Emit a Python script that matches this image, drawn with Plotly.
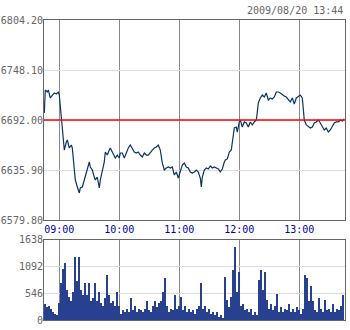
import plotly.graph_objects as go

# ---- data ----
price_times = ["08:45","08:46","08:48","08:49","08:51","08:53","08:55","08:57","08:59","09:00",
"09:02","09:03","09:04","09:05","09:07","09:08","09:10","09:12","09:13","09:15",
"09:16","09:18","09:20","09:21","09:23","09:25","09:27","09:29","09:30","09:31",
"09:33","09:35","09:36","09:38","09:40","09:41","09:43","09:45","09:46","09:48",
"09:50","09:51","09:53","09:55","09:56","09:58","10:00","10:01","10:03","10:05",
"10:07","10:09","10:11","10:13","10:15","10:17","10:19","10:21","10:23","10:25",
"10:27","10:29","10:31","10:33","10:35","10:37","10:39","10:41","10:43","10:45",
"10:47","10:49","10:51","10:53","10:55","10:57","10:59","11:01","11:03","11:05",
"11:07","11:09","11:11","11:13","11:15","11:17","11:19","11:21","11:22","11:23",
"11:25","11:27","11:29","11:31","11:33","11:35","11:37","11:39","11:41","11:43",
"11:45","11:46","11:48","11:50","11:52","11:54","11:55","11:57","11:58","12:00",
"12:01","12:03","12:05","12:07","12:09","12:11","12:13","12:15","12:17","12:18",
"12:19","12:21","12:23","12:25","12:27","12:29","12:31","12:33","12:35","12:37",
"12:39","12:41","12:43","12:45","12:47","12:49","12:51","12:53","12:55","12:57",
"12:59","13:01","13:03","13:04","13:05","13:07","13:09","13:11","13:13","13:15",
"13:17","13:19","13:21","13:23","13:25","13:27","13:29","13:31","13:33","13:35",
"13:37","13:39","13:41","13:43","13:45"]
price_values = [6699.8,6725.7,6723.4,6725.7,6716.7,6720.0,6722.3,6721.2,6723.4,6720.0,
6692.0,6680.8,6667.3,6658.3,6667.3,6669.6,6660.6,6664.0,6660.6,6639.3,
6624.7,6616.8,6610.1,6615.7,6616.8,6624.7,6633.7,6641.5,6644.9,6639.3,
6635.9,6628.0,6624.7,6628.0,6615.7,6624.7,6635.9,6644.9,6656.1,6652.7,
6658.3,6660.6,6656.1,6650.5,6649.4,6652.7,6649.4,6655.0,6655.0,6649.4,
6656.1,6660.6,6664.0,6660.6,6656.1,6655.0,6656.1,6652.7,6650.5,6655.0,
6652.7,6652.7,6656.1,6658.3,6660.6,6661.7,6664.0,6658.3,6643.8,6635.9,
6638.1,6639.3,6638.1,6639.3,6630.3,6633.7,6626.9,6633.7,6641.5,6643.8,
6639.3,6638.1,6633.7,6632.5,6633.7,6635.9,6633.7,6626.9,6616.8,6628.0,
6635.9,6638.1,6637.0,6640.4,6638.1,6639.3,6638.1,6637.0,6633.7,6637.0,
6644.9,6647.1,6648.3,6656.1,6658.3,6671.8,6683.0,6684.1,6678.5,6689.8,
6692.0,6684.1,6689.8,6688.6,6684.1,6689.8,6686.4,6689.8,6692.0,6700.9,
6711.1,6716.7,6720.0,6717.8,6722.3,6714.4,6716.7,6715.6,6717.8,6723.4,
6723.4,6722.3,6720.0,6718.9,6717.8,6714.4,6712.2,6716.7,6709.9,6716.7,
6718.9,6720.0,6716.7,6703.2,6692.0,6686.4,6684.1,6683.0,6684.1,6688.6,
6689.8,6692.0,6688.6,6684.1,6680.8,6683.0,6678.5,6680.8,6684.1,6688.6,
6689.8,6689.8,6692.0,6690.9,6693.1]

volume_start = "08:46"   # first 2-minute bar
volume_values = [326,265,305,244,183,142,122,366,773,1058,
1180,611,488,407,570,1302,814,1302,611,509,
773,529,773,407,448,773,407,570,366,305,
448,936,509,366,407,285,570,305,142,204,
163,224,183,448,204,285,163,244,204,163,
244,387,204,163,285,407,265,366,407,570,
855,285,183,244,204,529,244,285,488,204,
285,183,244,163,204,142,224,285,773,244,
305,183,224,142,183,102,163,81,122,61,
895,427,265,488,1018,1486,590,997,285,326,
204,244,163,224,122,183,102,834,1018,611,
997,427,244,346,204,285,549,183,265,163,
244,204,346,183,244,163,265,204,142,244,
936,855,387,692,387,204,163,448,224,163,
427,204,244,163,326,183,244,204,285,529]

prev_close = 6692.0
price_ticks = [6579.80, 6635.90, 6692.00, 6748.10, 6804.20]
volume_ticks = [0, 546, 1092, 1638]
time_ticks = ["09:00", "10:00", "11:00", "12:00", "13:00"]
stamp = "2009/08/20 13:44"
day = "2009-08-20 "

# ---- build ----
from datetime import datetime, timedelta
px = [day + t for t in price_times]
v0 = datetime.strptime(day + volume_start, "%Y-%m-%d %H:%M")
vx = [(v0 + timedelta(minutes=2 * i)).strftime("%Y-%m-%d %H:%M") for i in range(len(volume_values))]

FONT = "DejaVu Sans Mono"
fig = go.Figure()
fig.add_trace(go.Scatter(x=px, y=price_values, mode="lines",
                         line=dict(color="#0a3466", width=1.2),
                         xaxis="x", yaxis="y", hoverinfo="skip"))
fig.add_trace(go.Bar(x=vx, y=volume_values, width=120000,
                     marker=dict(color="#27408f", line=dict(width=0)),
                     xaxis="x2", yaxis="y2", hoverinfo="skip"))
fig.add_shape(type="line", xref="x domain", yref="y", x0=0, x1=1,
              y0=prev_close, y1=prev_close, line=dict(color="#ff0000", width=1.5))

xr = [day + "08:44:42", day + "13:45:42"]
axis_common = dict(showline=True, mirror=True, linecolor="#666666", linewidth=1,
                   ticks="", zeroline=False, automargin=False)
fig.update_layout(
    width=350, height=330,
    margin=dict(l=44, r=5, t=20, b=10),
    paper_bgcolor="white", plot_bgcolor="white",
    showlegend=False, bargap=0,
    font=dict(family=FONT, size=10, color="#666666"),
    xaxis=dict(domain=[0, 1], anchor="y", range=xr, type="date",
               tickvals=[day + t for t in time_ticks], ticktext=time_ticks,
               tickfont=dict(color="#0000a0", size=10, family=FONT),
               showgrid=True, gridcolor="#8a8a8a", gridwidth=1, **axis_common),
    yaxis=dict(domain=[1 - 200 / 300, 1], anchor="x", range=[price_ticks[0], price_ticks[-1]],
               tickvals=price_ticks, ticktext=["%.2f" % v for v in price_ticks],
               ticklabelstandoff=-2,
               showgrid=True, gridcolor="#dddddd", **axis_common),
    xaxis2=dict(domain=[0, 1], anchor="y2", range=xr, type="date",
                tickvals=[day + t for t in time_ticks], showticklabels=False,
                showgrid=True, gridcolor="#8a8a8a", gridwidth=1, **axis_common),
    yaxis2=dict(domain=[0, 80.5 / 300], anchor="x2", range=[volume_ticks[0], volume_ticks[-1]],
                tickvals=volume_ticks, ticktext=[str(v) for v in volume_ticks],
                ticklabelstandoff=-2,
                showgrid=True, gridcolor="#dddddd", **axis_common),
    annotations=[dict(text=stamp, xref="paper", yref="paper", x=1.0, y=1.0,
                      xanchor="right", yanchor="bottom", yshift=2, showarrow=False,
                      font=dict(family=FONT, size=10, color="#666666"))],
)
fig.write_html("out.html")
